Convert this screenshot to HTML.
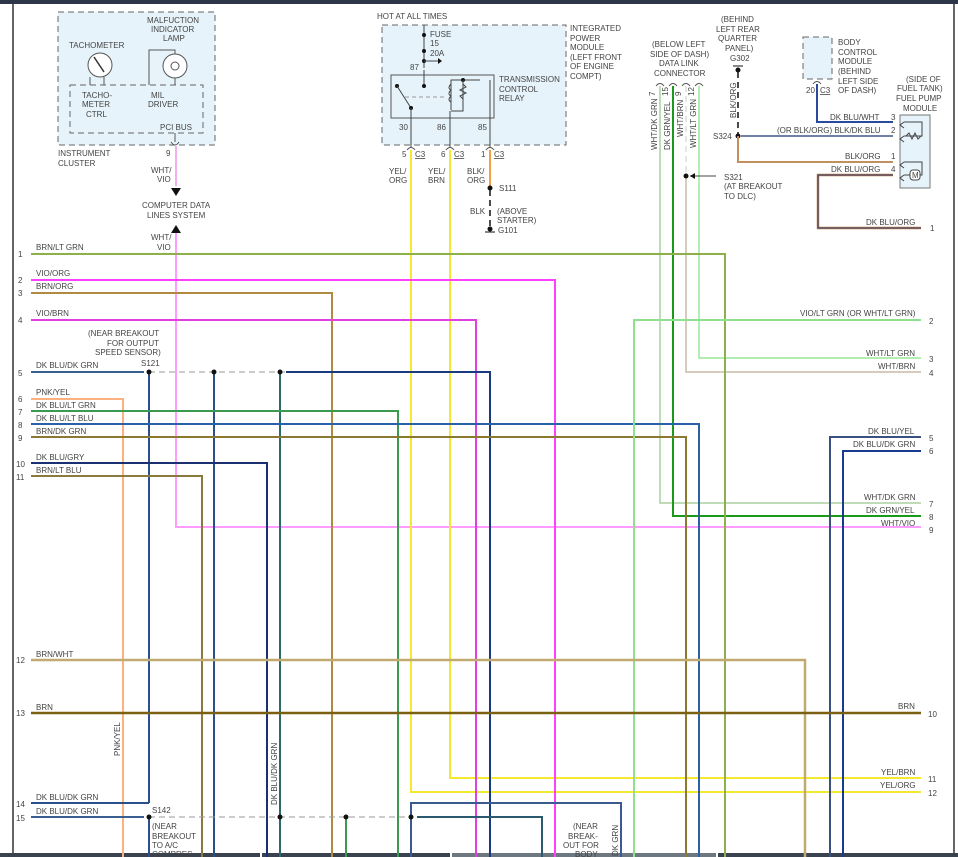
<!DOCTYPE html>
<html><head><meta charset="utf-8"><style>
html,body{margin:0;padding:0;background:#fff}
svg{display:block}
text{font-family:"Liberation Sans",sans-serif;font-size:8px;fill:#444}
</style></head><body>
<svg width="958" height="857" viewBox="0 0 958 857" xmlns="http://www.w3.org/2000/svg">
<rect x="0" y="0" width="958" height="4" fill="#2c3646"/>
<line x1="13" y1="4" x2="13" y2="857" stroke="#333" stroke-width="1.5"/>
<line x1="954" y1="4" x2="954" y2="857" stroke="#333" stroke-width="1.5"/>
<rect x="0" y="853" width="260" height="4" fill="#3a4250"/>
<rect x="262" y="853" width="188" height="4" fill="#3a4250"/>
<rect x="452" y="853" width="264" height="4" fill="#6e7880"/>
<rect x="718" y="853" width="240" height="4" fill="#3a4250"/>

<!-- Instrument cluster -->
<rect x="58" y="12" width="157" height="133" fill="#e6f3fa" stroke="#666" stroke-dasharray="6,4"/>
<rect x="70" y="85" width="133" height="48" fill="none" stroke="#666" stroke-dasharray="6,4"/>
<circle cx="100" cy="65" r="12" fill="#fff" stroke="#555"/>
<line x1="94" y1="57" x2="104" y2="72" stroke="#333" stroke-width="1.5"/>
<line x1="90" y1="77" x2="90" y2="85" stroke="#555"/><line x1="104" y1="77" x2="104" y2="85" stroke="#555"/>
<circle cx="175" cy="66" r="12" fill="#fff" stroke="#555"/>
<circle cx="175" cy="66" r="4" fill="none" stroke="#555"/>
<polyline points="149,85 149,50 175,50 175,54" fill="none" stroke="#555"/>
<line x1="175" y1="78" x2="175" y2="85" stroke="#555"/>
<text x="69" y="48">TACHOMETER</text>
<text x="147" y="23">MALFUCTION</text><text x="151" y="32">INDICATOR</text><text x="163" y="41">LAMP</text>
<text x="82" y="98">TACHO-</text><text x="82" y="107">METER</text><text x="86" y="117">CTRL</text>
<text x="151" y="98">MIL</text><text x="148" y="107">DRIVER</text>
<text x="160" y="130">PCI BUS</text>
<text x="58" y="156">INSTRUMENT</text><text x="58" y="166">CLUSTER</text>
<path d="M171,142 q4,6 8,0" fill="none" stroke="#555"/><line x1="175" y1="133" x2="175" y2="142" stroke="#555"/>
<text x="166" y="156">9</text>
<line x1="176" y1="146" x2="176" y2="186" stroke="#f0b0f0" stroke-width="2"/>
<text x="151" y="173">WHT/</text><text x="157" y="182">VIO</text>
<polygon points="171,188 181,188 176,196" fill="#111"/>
<text x="142" y="208">COMPUTER DATA</text><text x="147" y="218">LINES SYSTEM</text>
<polygon points="171,233 181,233 176,225" fill="#111"/>
<text x="151" y="240">WHT/</text><text x="157" y="250">VIO</text>
<polyline points="176,233 176,527 921,527" fill="none" stroke="#ff9cff" stroke-width="2"/>

<!-- IPM -->
<rect x="382" y="25" width="184" height="120" fill="#e6f3fa" stroke="#666" stroke-dasharray="6,4"/>
<text x="377" y="19">HOT AT ALL TIMES</text>
<line x1="424" y1="25" x2="424" y2="68" stroke="#444"/>
<circle cx="424" cy="35" r="2" fill="#111"/><circle cx="424" cy="51" r="2" fill="#111"/><circle cx="424" cy="61" r="2" fill="#111"/>
<polyline points="424,61 438,61" stroke="#444" fill="none"/><polygon points="438,58 442,61 438,64" fill="#111"/>
<text x="430" y="37">FUSE</text><text x="430" y="46">15</text><text x="430" y="56">20A</text>
<text x="410" y="70">87</text>
<rect x="391" y="75" width="103" height="43" fill="none" stroke="#555"/>
<line x1="424" y1="70" x2="424" y2="86" stroke="#444"/><circle cx="424" cy="86" r="2" fill="#111"/>
<circle cx="397" cy="86" r="2" fill="#111"/><line x1="397" y1="86" x2="411" y2="108" stroke="#444"/><circle cx="411" cy="108" r="2" fill="#111"/>
<line x1="405" y1="97" x2="447" y2="97" stroke="#999" stroke-dasharray="4,3"/>
<polyline points="451,110 451,80 480,80" fill="none" stroke="#444"/><circle cx="463" cy="80" r="2" fill="#111"/>
<path d="M451,84 q-4,4 0,6 q-4,4 0,6 q-4,4 0,6" fill="none" stroke="#444"/>
<path d="M463,84 l3,3 -6,3 6,3 -6,3 3,3" fill="none" stroke="#444"/>
<polyline points="463,80 463,111 451,111" fill="none" stroke="#444"/>
<text x="499" y="82">TRANSMISSION</text><text x="499" y="92">CONTROL</text><text x="499" y="101">RELAY</text>
<text x="570" y="31">INTEGRATED</text><text x="570" y="41">POWER</text><text x="570" y="50">MODULE</text><text x="570" y="60">(LEFT FRONT</text><text x="570" y="69">OF ENGINE</text><text x="570" y="79">COMPT)</text>
<line x1="411" y1="108" x2="411" y2="148" stroke="#444"/><line x1="450" y1="111" x2="450" y2="148" stroke="#444"/><line x1="490" y1="80" x2="490" y2="148" stroke="#444"/>
<text x="399" y="130">30</text><text x="437" y="130">86</text><text x="478" y="130">85</text>
<path d="M407,150 q4,-5 8,0 M446,150 q4,-5 8,0 M486,150 q4,-5 8,0" fill="none" stroke="#555"/>
<text x="402" y="157">5</text><text x="415" y="157" text-decoration="underline">C3</text>
<text x="441" y="157">6</text><text x="454" y="157" text-decoration="underline">C3</text>
<text x="481" y="157">1</text><text x="494" y="157" text-decoration="underline">C3</text>
<text x="389" y="174">YEL/</text><text x="389" y="183">ORG</text>
<text x="428" y="174">YEL/</text><text x="428" y="183">BRN</text>
<text x="467" y="174">BLK/</text><text x="467" y="183">ORG</text>
<line x1="490" y1="150" x2="490" y2="188" stroke="#f0a040" stroke-width="2"/>
<circle cx="490" cy="188" r="2.5" fill="#111"/><text x="499" y="191">S111</text>
<line x1="490" y1="190" x2="490" y2="226" stroke="#111" stroke-width="1.5" stroke-dasharray="6,4"/>
<text x="470" y="214">BLK</text><text x="497" y="214">(ABOVE</text><text x="497" y="223">STARTER)</text>
<circle cx="490" cy="229" r="2.5" fill="#111"/><line x1="485" y1="232" x2="495" y2="232" stroke="#111"/><text x="498" y="233">G101</text>
<polyline points="411,150 411,792 921,792" fill="none" stroke="#f5e830" stroke-width="2"/>
<polyline points="450,150 450,778 921,778" fill="none" stroke="#f5e830" stroke-width="2"/>

<!-- DLC -->
<text x="652" y="47">(BELOW LEFT</text><text x="650" y="57">SIDE OF DASH)</text><text x="659" y="66">DATA LINK</text><text x="654" y="76">CONNECTOR</text>
<path d="M656,86 q4,-5 8,0 M669,86 q4,-5 8,0 M682,86 q4,-5 8,0 M695,86 q4,-5 8,0" fill="none" stroke="#555"/>
<text transform="translate(655,96) rotate(-90)">7</text><text transform="translate(668,96) rotate(-90)">15</text><text transform="translate(681,96) rotate(-90)">9</text><text transform="translate(694,96) rotate(-90)">12</text>
<text transform="translate(657,150) rotate(-90)">WHT/DK GRN</text><text transform="translate(670,150) rotate(-90)">DK GRN/YEL</text>
<text transform="translate(683,137) rotate(-90)">WHT/BRN</text><text transform="translate(696,148) rotate(-90)">WHT/LT GRN</text>
<polyline points="660,86 660,503 921,503" fill="none" stroke="#a8d0a0" stroke-width="1.5"/>
<polyline points="673,86 673,516 921,516" fill="none" stroke="#1a9a1a" stroke-width="2"/>
<line x1="686" y1="86" x2="686" y2="176" stroke="#ccc" stroke-dasharray="6,4"/>
<polyline points="686,176 686,372 921,372" fill="none" stroke="#c8bca8" stroke-width="1.5"/>
<polyline points="699,86 699,358 921,358" fill="none" stroke="#98e898" stroke-width="1.5"/>
<circle cx="686" cy="176" r="2.5" fill="#111"/><line x1="690" y1="176" x2="716" y2="176" stroke="#444"/><polygon points="690,176 695,173 695,179" fill="#111"/>
<text x="724" y="180">S321</text><text x="724" y="189">(AT BREAKOUT</text><text x="724" y="199">TO DLC)</text>

<!-- G302 / fuel pump -->
<text x="721" y="22">(BEHIND</text><text x="716" y="32">LEFT REAR</text><text x="718" y="41">QUARTER</text><text x="725" y="51">PANEL)</text><text x="730" y="61">G302</text>
<line x1="733" y1="66" x2="743" y2="66" stroke="#111"/><circle cx="738" cy="70" r="2.5" fill="#111"/>
<line x1="738" y1="72" x2="738" y2="134" stroke="#111" stroke-width="1.5" stroke-dasharray="6,4"/>
<text transform="translate(736,118) rotate(-90)">BLK/ORG</text>
<circle cx="738" cy="136" r="2.5" fill="#111"/><text x="713" y="139">S324</text>
<line x1="741" y1="136" x2="893" y2="136" stroke="#7080a8" stroke-width="2"/>
<polyline points="738,136 738,162 893,162" fill="none" stroke="#c09060" stroke-width="2"/>
<rect x="803" y="37" width="29" height="42" fill="#e6f3fa" stroke="#666" stroke-dasharray="6,4"/>
<text x="838" y="45">BODY</text><text x="838" y="55">CONTROL</text><text x="838" y="64">MODULE</text><text x="838" y="74">(BEHIND</text><text x="838" y="84">LEFT SIDE</text><text x="838" y="93">OF DASH)</text>
<text x="806" y="93">20</text><text x="820" y="93" text-decoration="underline">C3</text>
<path d="M813,84 q4,-5 8,0" fill="none" stroke="#555"/>
<polyline points="817,84 817,122 893,122" fill="none" stroke="#2a4aa0" stroke-width="2"/>
<polyline points="893,175 818,175 818,228 921,228" fill="none" stroke="#c08040" stroke-width="2.5"/>
<polyline points="893,175 818,175 818,228 921,228" fill="none" stroke="#2a3a80" stroke-width="1"/>
<text x="906" y="82">(SIDE OF</text><text x="897" y="91">FUEL TANK)</text><text x="896" y="101">FUEL PUMP</text><text x="903" y="111">MODULE</text>
<rect x="900" y="115" width="30" height="73" fill="#e6f3fa" stroke="#777"/>
<text x="830" y="120">DK BLU/WHT</text><text x="891" y="120">3</text>
<text x="777" y="133">(OR BLK/ORG) BLK/DK BLU</text><text x="891" y="133">2</text>
<text x="845" y="159">BLK/ORG</text><text x="891" y="159">1</text>
<text x="831" y="172">DK BLU/ORG</text><text x="891" y="172">4</text>
<text x="866" y="225">DK BLU/ORG</text><text x="930" y="231">1</text>
<path d="M904,122 l-4,3 4,3 M904,136 l-4,3 4,3 M904,162 l-4,3 4,3 M904,175 l-4,3 4,3" fill="none" stroke="#444"/>
<polyline points="904,122 922,122 922,136 904,136" fill="none" stroke="#444"/>
<path d="M906,136 l3,-3 3,6 3,-6 3,6 3,-3" fill="none" stroke="#444"/>
<polyline points="904,162 922,162 922,175 904,175" fill="none" stroke="#444"/>
<rect x="910" y="170" width="10" height="10" rx="3" fill="#fff" stroke="#444"/><text x="912" y="178">M</text>

<!-- left horizontal wires -->
<g fill="none" stroke-width="2">
<polyline points="31,254 725,254 725,857" stroke="#8db04a"/>
<polyline points="31,280 555,280 555,857" stroke="#ff40ff"/>
<polyline points="31,293 332,293 332,857" stroke="#b08a40"/>
<polyline points="31,320 476,320 476,857" stroke="#e040e0"/>
<line x1="31" y1="372" x2="144" y2="372" stroke="#3a6090"/>
<polyline points="286,372 490,372 490,857" stroke="#1a3a80"/>
<line x1="149" y1="372" x2="149" y2="803" stroke="#2a4f8a"/>
<line x1="214" y1="372" x2="214" y2="857" stroke="#2a4f8a"/>
<line x1="280" y1="372" x2="280" y2="857" stroke="#2a6a6a"/>
<polyline points="31,399 123,399 123,857" stroke="#ffb080"/>
<polyline points="31,411 398,411 398,857" stroke="#3a9a50"/>
<polyline points="31,424 699,424 699,857" stroke="#2a60a8"/>
<polyline points="31,437 686,437 686,857" stroke="#8a7a30"/>
<polyline points="31,463 267,463 267,857" stroke="#1a3070"/>
<polyline points="31,476 202,476 202,857" stroke="#8a7a40"/>
<polyline points="634,857 634,320 921,320" stroke="#90e090"/>
<polyline points="830,857 830,437 921,437" stroke="#3a5080"/>
<polyline points="843,857 843,451 921,451" stroke="#1a3a90"/>
<polyline points="31,660 805,660 805,857" stroke="#c0aa70" stroke-width="2.5"/>
<line x1="31" y1="713" x2="921" y2="713" stroke="#7a6010" stroke-width="2.5"/>
<polyline points="31,803 149,803" stroke="#2a4f8a"/>
<line x1="31" y1="817" x2="144" y2="817" stroke="#3a6090"/>
<line x1="149" y1="817" x2="149" y2="857" stroke="#2a4f8a"/>
<line x1="346" y1="817" x2="346" y2="857" stroke="#3a9a50"/>
<polyline points="411,857 411,803 621,803 621,857" stroke="#3a5a90"/>
<polyline points="417,817 542,817 542,857" stroke="#2a5a70"/>
</g>
<line x1="149" y1="372" x2="286" y2="372" stroke="#999" stroke-dasharray="6,4"/>
<line x1="149" y1="817" x2="411" y2="817" stroke="#999" stroke-dasharray="6,4"/>
<g fill="#111"><circle cx="149" cy="372" r="2.5"/><circle cx="214" cy="372" r="2.5"/><circle cx="280" cy="372" r="2.5"/>
<circle cx="149" cy="817" r="2.5"/><circle cx="280" cy="817" r="2.5"/><circle cx="346" cy="817" r="2.5"/><circle cx="411" cy="817" r="2.5"/></g>

<!-- left labels -->
<text x="18" y="257">1</text><text x="36" y="250">BRN/LT GRN</text>
<text x="18" y="283">2</text><text x="36" y="276">VIO/ORG</text>
<text x="18" y="296">3</text><text x="36" y="289">BRN/ORG</text>
<text x="18" y="323">4</text><text x="36" y="316">VIO/BRN</text>
<text x="88" y="336">(NEAR BREAKOUT</text><text x="107" y="346">FOR OUTPUT</text><text x="95" y="355">SPEED SENSOR)</text><text x="141" y="366">S121</text>
<text x="18" y="376">5</text><text x="36" y="368">DK BLU/DK GRN</text>
<text x="18" y="402">6</text><text x="36" y="395">PNK/YEL</text>
<text x="18" y="415">7</text><text x="36" y="408">DK BLU/LT GRN</text>
<text x="18" y="428">8</text><text x="36" y="421">DK BLU/LT BLU</text>
<text x="18" y="441">9</text><text x="36" y="434">BRN/DK GRN</text>
<text x="16" y="467">10</text><text x="36" y="460">DK BLU/GRY</text>
<text x="16" y="480">11</text><text x="36" y="473">BRN/LT BLU</text>
<text x="16" y="663">12</text><text x="36" y="657">BRN/WHT</text>
<text x="16" y="716">13</text><text x="36" y="710">BRN</text>
<text x="16" y="807">14</text><text x="36" y="800">DK BLU/DK GRN</text>
<text x="16" y="821">15</text><text x="36" y="814">DK BLU/DK GRN</text>
<text x="152" y="813">S142</text>
<text x="152" y="829">(NEAR</text><text x="152" y="839">BREAKOUT</text><text x="152" y="848">TO A/C</text><text x="152" y="857">COMPRES</text>
<text transform="translate(120,756) rotate(-90)">PNK/YEL</text>
<text transform="translate(277,805) rotate(-90)">DK BLU/DK GRN</text>
<text x="573" y="829">(NEAR</text><text x="568" y="839">BREAK-</text><text x="563" y="848">OUT FOR</text><text x="575" y="857">BODY</text>
<text transform="translate(618,856) rotate(-90)">DK GRN</text>

<!-- right labels -->
<text x="800" y="316">VIO/LT GRN (OR WHT/LT GRN)</text><text x="929" y="324">2</text>
<text x="866" y="356">WHT/LT GRN</text><text x="929" y="362">3</text>
<text x="878" y="369">WHT/BRN</text><text x="929" y="376">4</text>
<text x="868" y="434">DK BLU/YEL</text><text x="929" y="441">5</text>
<text x="853" y="447">DK BLU/DK GRN</text><text x="929" y="454">6</text>
<text x="864" y="500">WHT/DK GRN</text><text x="929" y="507">7</text>
<text x="866" y="513">DK GRN/YEL</text><text x="929" y="520">8</text>
<text x="881" y="526">WHT/VIO</text><text x="929" y="533">9</text>
<text x="898" y="709">BRN</text><text x="928" y="717">10</text>
<text x="881" y="775">YEL/BRN</text><text x="928" y="782">11</text>
<text x="880" y="788">YEL/ORG</text><text x="928" y="796">12</text>
</svg>
</body></html>
